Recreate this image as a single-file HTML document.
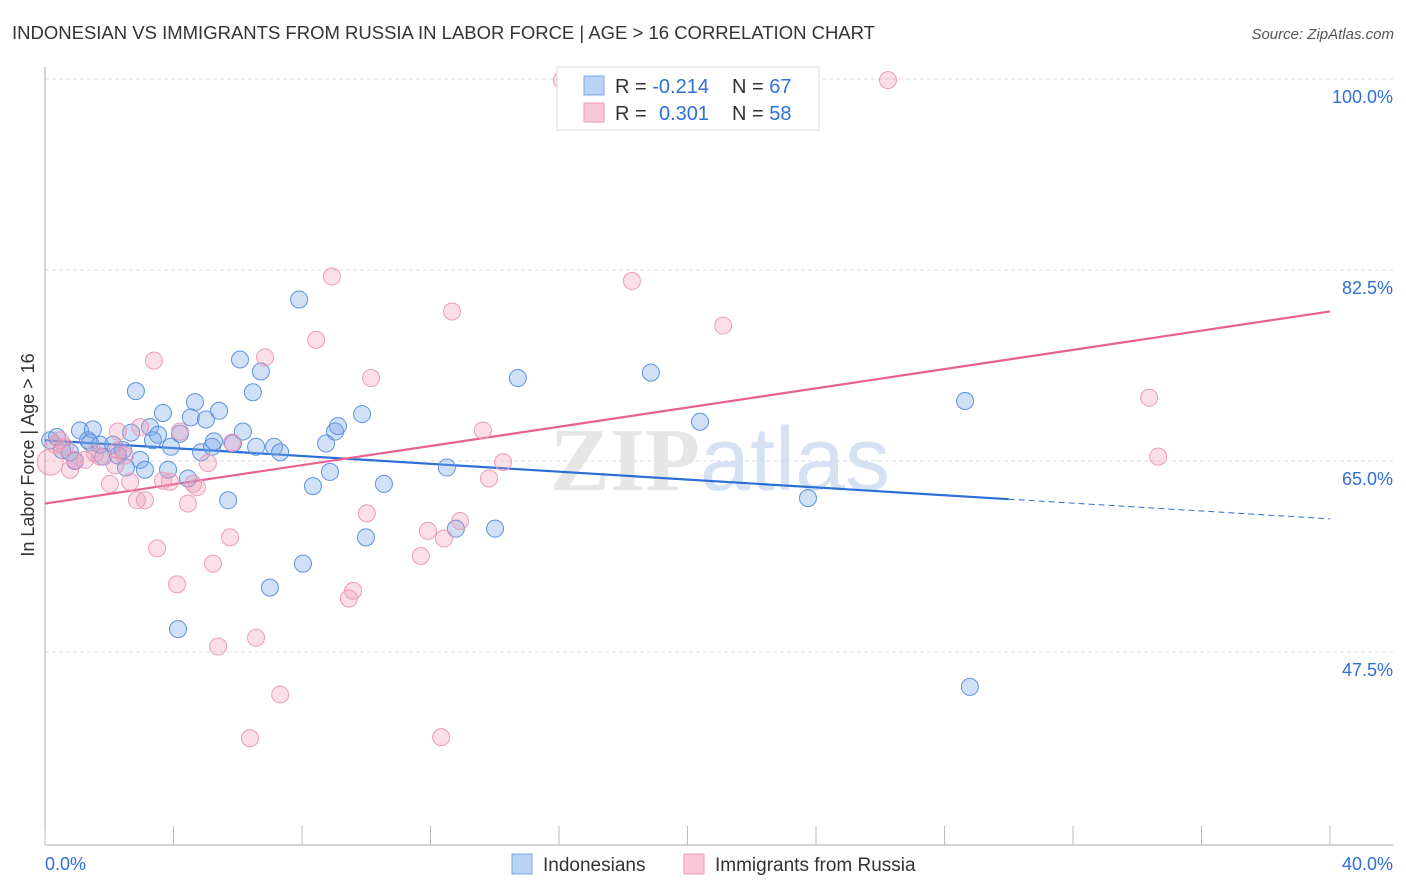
<!DOCTYPE html>
<html><head><meta charset="utf-8"><style>
body{margin:0;background:#fff;font-family:"Liberation Sans",sans-serif;}
svg{display:block}
</style></head><body>
<svg id="chart" width="1406" height="892">
<text x="12" y="39" font-size="18.5" fill="#333">INDONESIAN VS IMMIGRANTS FROM RUSSIA IN LABOR FORCE | AGE &gt; 16 CORRELATION CHART</text>
<text x="1394" y="39" font-size="15" fill="#555" font-style="italic" text-anchor="end">Source: ZipAtlas.com</text>
<text x="720" y="490" font-size="90" fill="#e6e6e6" text-anchor="middle" font-family="Liberation Serif,serif" font-weight="bold">ZIP<tspan fill="#d6e2f3" font-family="Liberation Sans,sans-serif" font-weight="normal">atlas</tspan></text>
<text transform="translate(34,455) rotate(-90)" font-size="18" fill="#333" text-anchor="middle">In Labor Force | Age &gt; 16</text>
<g id="grid"></g><g id="axes"></g><g id="trend"></g><g id="pts"></g>
<g>
<rect x="557" y="67" width="262" height="63" fill="#fff" stroke="#ddd"/>
<rect x="584" y="76" width="20" height="19" fill="#b8d3f5" stroke="#7aa7e6"/>
<rect x="584" y="103" width="20" height="19" fill="#f8c8d8" stroke="#ee9ab6"/>
<text x="615" y="93" font-size="20" fill="#333">R = <tspan fill="#2f6fd8">-0.214</tspan><tspan x="732">N = </tspan><tspan fill="#2f6fd8">67</tspan></text>
<text x="615" y="120" font-size="20" fill="#333">R = <tspan x="659" fill="#2f6fd8">0.301</tspan><tspan x="732">N = </tspan><tspan fill="#2f6fd8">58</tspan></text>
</g>
<g>
<rect x="512" y="854" width="20" height="20" fill="#b8d3f5" stroke="#7aa7e6"/>
<text x="543" y="871" font-size="19" fill="#333">Indonesians</text>
<rect x="684" y="854" width="20" height="20" fill="#f8c8d8" stroke="#ee9ab6"/>
<text x="715" y="871" font-size="19" fill="#333">Immigrants from Russia</text>
</g>
</svg>
<script>
const yTicks=[100,82.5,65,47.5];
const yTickLabels=["100.0%","82.5%","65.0%","47.5%"];
const xTickVals=[0,4,8,12,16,20,24,28,32,36,40];
const xEndLabels=["0.0%","40.0%"];
const blueX=[.16,.37,.53,.78,.93,1.09,1.34,1.49,1.40,1.71,1.81,2.12,2.27,2.43,2.52,2.68,2.83,2.96,3.11,3.27,3.36,3.52,3.67,3.83,3.92,4.20,4.14,4.45,4.54,4.67,4.86,5.01,5.20,5.26,5.42,5.70,5.85,6.07,6.16,6.47,6.57,6.72,7.13,7.32,7.00,7.91,8.03,8.34,8.75,8.87,9.03,9.12,9.87,9.99,10.55,12.51,12.79,14.01,14.72,18.86,20.39,23.75,28.64,28.79];
const blueY=[66.9,67.2,66.0,65.8,65.0,67.8,66.9,67.9,66.7,66.5,65.4,66.5,65.5,66.0,64.4,67.6,71.4,65.1,64.2,68.1,66.9,67.4,69.4,64.2,66.3,67.5,49.6,63.4,69.0,70.4,65.8,68.8,66.3,66.8,69.6,61.4,66.6,74.3,67.7,71.3,66.3,73.2,66.3,65.8,53.4,79.8,55.6,62.7,66.6,64.0,67.7,68.2,69.3,58.0,62.9,64.4,58.8,58.8,72.6,73.1,68.6,61.6,70.5,44.3];
const pinkX=[.16,.31,.47,.62,.78,.93,1.25,1.56,1.71,2.02,2.27,2.18,2.49,2.65,2.86,3.11,2.27,2.96,3.39,3.49,3.67,3.89,4.11,4.20,4.45,4.61,4.73,5.07,5.23,5.39,5.76,5.82,6.38,6.57,6.85,7.32,8.44,8.93,9.46,9.59,10.02,10.15,11.70,11.92,12.33,12.42,12.67,12.92,13.63,13.82,14.26,16.09,18.27,21.11,26.24,34.37,34.65];
const pinkY=[64.9,66.5,66.9,66.3,64.2,65.1,65.1,65.7,65.4,62.9,66.0,64.6,65.5,63.1,61.4,61.4,67.7,68.1,74.2,57.0,63.2,63.1,53.7,67.7,61.1,62.9,62.6,64.8,55.6,48.0,58.0,66.7,39.6,48.8,74.5,43.6,76.1,81.9,52.4,53.1,60.2,72.6,56.3,58.6,39.7,57.9,78.7,59.5,67.8,63.4,64.9,99.9,81.5,77.4,99.9,70.8,65.4];
const blueTrend=[66.9,-0.18];
const pinkTrend=[61.1,0.44];

const X0=45,X1=1330;
function sx(v){return X0+(X1-X0)*v/40;}
function sy(v){return 79+(100-v)*(191/17.5);}
const NS="http://www.w3.org/2000/svg";
function mk(tag,attrs,parent){const e=document.createElementNS(NS,tag);for(const k in attrs)e.setAttribute(k,attrs[k]);parent.appendChild(e);return e;}
const grid=document.getElementById('grid'),axes=document.getElementById('axes'),trend=document.getElementById('trend'),pts=document.getElementById('pts');
yTicks.forEach((t,i)=>{
  const l=mk('line',{x1:X0,x2:1393,y1:sy(t),y2:sy(t),stroke:'#ddd','stroke-dasharray':'4,3'},grid);
  
  
  const tx=mk('text',{x:1393,y:sy(t)+24,'font-size':18,fill:'#2f6fd8','text-anchor':'end'},grid);
  tx.textContent=yTickLabels[i];
  
  
});
const ya=mk('line',{x1:X0,x2:X0,y1:67,y2:845,stroke:'#aaa'},axes);


const xa=mk('line',{x1:X0,x2:1393,y1:845,y2:845,stroke:'#aaa'},axes);


xTickVals.forEach(v=>{
  const t=mk('line',{x1:sx(v),x2:sx(v),y1:826,y2:845,stroke:'#bbb'},axes);
  
  
});
[[0,'start'],[40,'end']].forEach((p,i)=>{
  const t=mk('text',{x:sx(p[0])+(i?63:0),y:870,'font-size':18,fill:'#2f6fd8','text-anchor':p[1]},axes);
  t.textContent=xEndLabels[i];
  
  
});
const bt=mk('line',{x1:sx(0),y1:sy(blueTrend[0]),x2:sx(30),y2:sy(blueTrend[0]+blueTrend[1]*30),stroke:'#2a6fd6','stroke-width':2.2},trend);


const bd=mk('line',{x1:sx(30),y1:sy(blueTrend[0]+blueTrend[1]*30),x2:sx(40),y2:sy(blueTrend[0]+blueTrend[1]*40),stroke:'#2a6fd6','stroke-width':1,'stroke-dasharray':'6,4'},trend);


const pt=mk('line',{x1:sx(0),y1:sy(pinkTrend[0]),x2:sx(40),y2:sy(pinkTrend[0]+pinkTrend[1]*40),stroke:'#e8608f','stroke-width':2.2},trend);


blueX.forEach((x,i)=>{
  const c=mk('circle',{cx:sx(x),cy:sy(blueY[i]),r:8.5,fill:'rgba(120,165,230,0.35)',stroke:'#5d93de','stroke-width':1},pts);
  
  
});
pinkX.forEach((x,i)=>{
  const c=mk('circle',{cx:sx(x),cy:sy(pinkY[i]),r:i==0?13:8.5,fill:'rgba(240,150,180,0.3)',stroke:'#eb9cb8','stroke-width':1},pts);
  
  
});
</script>
</body></html>
